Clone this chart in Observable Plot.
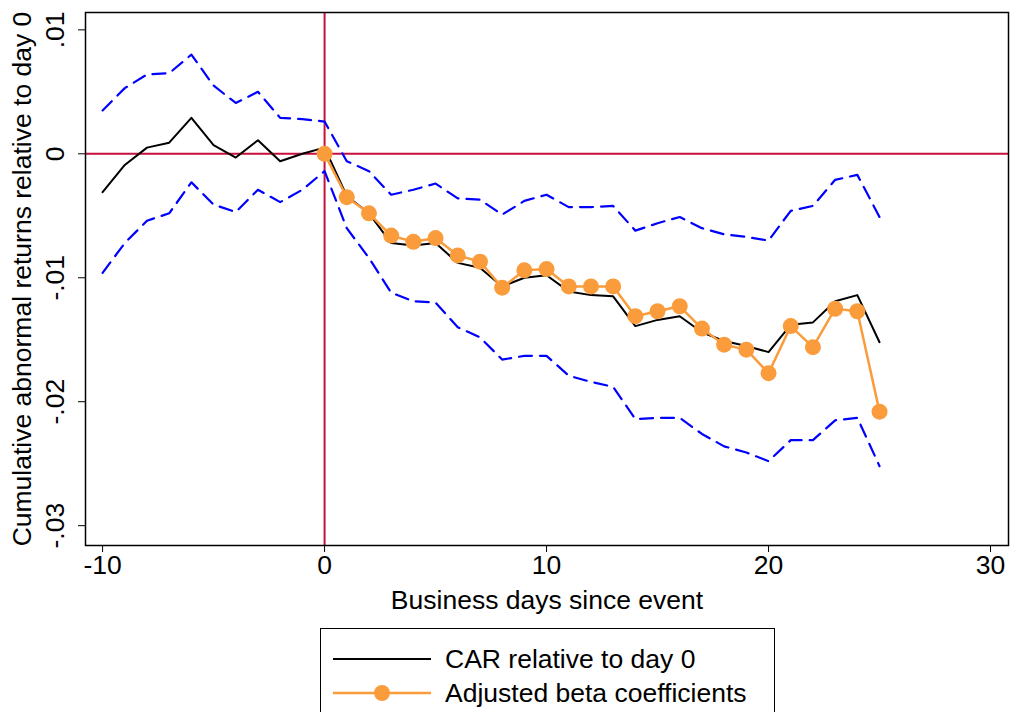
<!DOCTYPE html>
<html>
<head>
<meta charset="utf-8">
<script src="https://cdn.jsdelivr.net/npm/d3@7"></script>
<script src="https://cdn.jsdelivr.net/npm/@observablehq/plot@0.6"></script>
<style>
  html, body { margin: 0; padding: 0; background: #fff; overflow: hidden; }
  body { width: 1011px; height: 712px; position: relative; font-family: "Liberation Sans", Arial, sans-serif; }
  #legend { position: absolute; left: 320px; top: 628px; width: 455px; height: 100px; border: 1.5px solid #000; box-sizing: border-box; background: #fff; }
  .row { position: absolute; left: 0; height: 34px; display: flex; align-items: center; font-size: 26.5px; color: #000; }
  .row svg { margin-left: 12px; margin-right: 14px; }
</style>
</head>
<body>
<div id="chart"></div>
<div id="legend">
  <div class="row" style="top: 13px;">
    <svg width="98" height="20"><line x1="0" x2="98" y1="10" y2="10" stroke="#000" stroke-width="2"/></svg>
    <span>CAR relative to day 0</span>
  </div>
  <div class="row" style="top: 47px;">
    <svg width="98" height="20"><line x1="0" x2="98" y1="10" y2="10" stroke="#fa9c3c" stroke-width="2.5"/><circle cx="49" cy="10" r="8" fill="#fa9c3c"/></svg>
    <span>Adjusted beta coefficients</span>
  </div>
</div>
<script>
const days = [-10,-9,-8,-7,-6,-5,-4,-3,-2,-1,0,1,2,3,4,5,6,7,8,9,10,11,12,13,14,15,16,17,18,19,20,21,22,23,24,25];
const car = [-0.0031,-0.0009,0.0005,0.0009,0.0029,0.0007,-0.0003,0.0011,-0.0006,0.0000,0.0005,
  -0.0034,-0.0048,-0.0072,-0.0074,-0.0072,-0.0088,-0.0092,-0.0107,-0.0100,-0.0098,-0.0111,-0.0114,-0.0115,-0.0139,-0.0134,-0.0131,-0.0144,-0.0151,-0.0155,-0.0160,-0.0138,-0.0136,-0.0119,-0.0114,-0.0152];
const upper = [0.0035,0.0053,0.0064,0.0065,0.0080,0.0055,0.0041,0.0050,0.0029,0.0028,0.0026,
  -0.0006,-0.0014,-0.0033,-0.0029,-0.0024,-0.0036,-0.0037,-0.0049,-0.0038,-0.0033,-0.0043,-0.0043,-0.0042,-0.0062,-0.0056,-0.0051,-0.0060,-0.0065,-0.0067,-0.0070,-0.0046,-0.0042,-0.0021,-0.0017,-0.0051];
const lower = [-0.0096,-0.0072,-0.0054,-0.0048,-0.0023,-0.0041,-0.0047,-0.0029,-0.0039,-0.0029,-0.0014,
  -0.0060,-0.0084,-0.0112,-0.0119,-0.0120,-0.0140,-0.0148,-0.0166,-0.0163,-0.0163,-0.0179,-0.0184,-0.0188,-0.0214,-0.0213,-0.0213,-0.0226,-0.0236,-0.0241,-0.0248,-0.0231,-0.0231,-0.0215,-0.0213,-0.0252];
const adjDays = [0,1,2,3,4,5,6,7,8,9,10,11,12,13,14,15,16,17,18,19,20,21,22,23,24,25];
const adj = [0,-0.0035,-0.0048,-0.0066,-0.0071,-0.0068,-0.0082,-0.0087,-0.0108,-0.0094,-0.0093,-0.0107,-0.0107,-0.0107,-0.0131,-0.0127,-0.0123,-0.0141,-0.0154,-0.0158,-0.0177,-0.0139,-0.0156,-0.0125,-0.0127,-0.0208];
const xTicks = [-10, 0, 10, 20, 30];
const xTickLabels = ["-10", "0", "10", "20", "30"];
const yTicks = [-0.03, -0.02, -0.01, 0, 0.01];
const yTickLabels = ["-.03", "-.02", "-.01", "0", ".01"];

const main = days.map((d, i) => ({day: d, car: car[i], upper: upper[i], lower: lower[i]}));
const adjData = adjDays.map((d, i) => ({day: d, v: adj[i]}));
const yTickData = yTicks.map((v, i) => ({v, label: yTickLabels[i]}));

const orange = "#fa9c3c";
const fs = 26.5;
const chart = Plot.plot({
  width: 1011,
  height: 620,
  marginLeft: 85,
  marginRight: 3,
  marginTop: 12,
  marginBottom: 75,
  style: {fontFamily: "'Liberation Sans', Arial, sans-serif", fontSize: fs + "px", color: "#000", background: "#fff"},
  x: {domain: [-10.77, 30.81]},
  y: {domain: [-0.0316, 0.0114]},
  marks: [
    Plot.ruleY([0], {stroke: "#c8103e", strokeWidth: 2}),
    Plot.ruleX([0], {stroke: "#c8103e", strokeWidth: 2}),
    Plot.line(main, {x: "day", y: "upper", stroke: "#0000ff", strokeWidth: 2.2, strokeDasharray: "13,8"}),
    Plot.line(main, {x: "day", y: "lower", stroke: "#0000ff", strokeWidth: 2.2, strokeDasharray: "13,8"}),
    Plot.line(main, {x: "day", y: "car", stroke: "#000", strokeWidth: 2}),
    Plot.line(adjData, {x: "day", y: "v", stroke: orange, strokeWidth: 2.5}),
    Plot.dot(adjData, {x: "day", y: "v", fill: orange, r: 8}),
    Plot.frame({stroke: "#000", strokeWidth: 1.5}),
    Plot.axisX({ticks: xTicks, tickSize: 7, tickPadding: 3, fontSize: fs, tickFormat: d => xTickLabels[xTicks.indexOf(d)], label: "Business days since event", labelAnchor: "center", labelArrow: "none", labelOffset: 63}),
    Plot.axisY({ticks: yTicks, tickSize: 7, tickFormat: () => "", label: null}),
    Plot.text(yTickData, {y: "v", text: "label", frameAnchor: "left", dx: -30, rotate: -90, textAnchor: "middle", lineAnchor: "middle", fontSize: fs}),
    Plot.text(["Cumulative abnormal returns relative to day 0"], {frameAnchor: "left", dx: -63, rotate: -90, textAnchor: "middle", lineAnchor: "middle", fontSize: fs})
  ]
});
document.getElementById("chart").appendChild(chart);
</script>
</body>
</html>
